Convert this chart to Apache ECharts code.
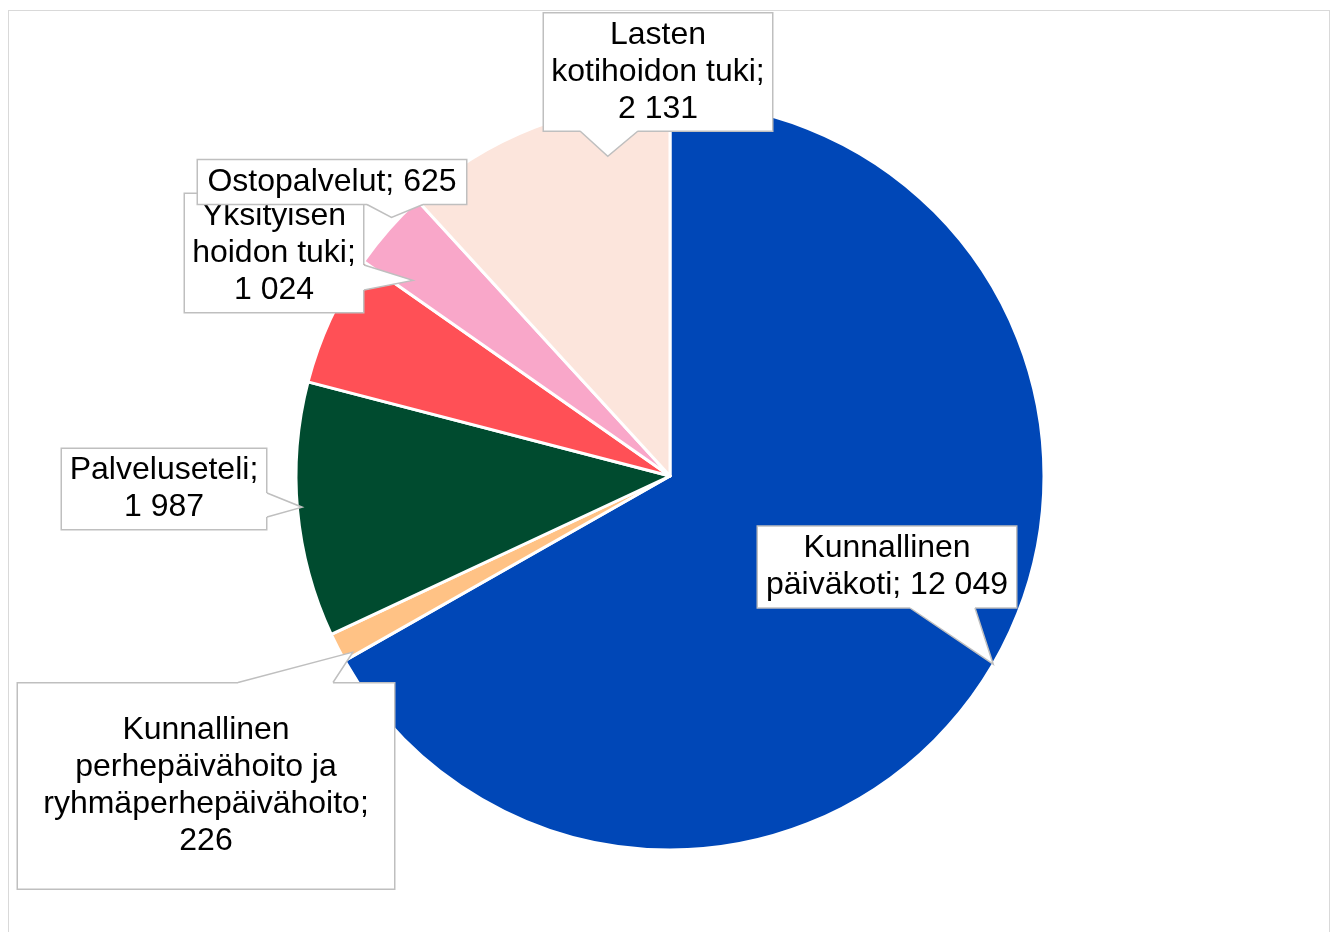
<!DOCTYPE html>
<html>
<head>
<meta charset="utf-8">
<script src="https://cdn.jsdelivr.net/npm/echarts@6/dist/echarts.min.js"></script>
<style>
  html, body { margin: 0; padding: 0; background: #fff; }
  #frame { position: absolute; left: 8px; top: 10px; width: 1322px; height: 930px; border: 1.5px solid #d9d9d9; box-sizing: border-box; }
  #chart { position: absolute; left: 0; top: 0; width: 1341px; height: 932px; }
</style>
</head>
<body>
<div id="frame"></div>
<div id="chart"></div>
<script>
// ---- data ----
const categories = [
  'Kunnallinen päiväkoti',
  'Kunnallinen perhepäivähoito ja ryhmäperhepäivähoito',
  'Palveluseteli',
  'Yksityisen hoidon tuki',
  'Ostopalvelut',
  'Lasten kotihoidon tuki'
];
const values = [12049, 226, 1987, 1024, 625, 2131];

// ---- styles / layout (not data) ----
const colors = ['#0047b7', '#ffc285', '#004b2f', '#ff5056', '#f9a7c9', '#fce5dc'];
const wrappedNames = [
  'Kunnallinen\npäiväkoti;',
  'Kunnallinen\nperhepäivähoito ja\nryhmäperhepäivähoito;\n',
  'Palveluseteli;\n',
  'Yksityisen\nhoidon tuki;\n',
  'Ostopalvelut;',
  'Lasten\nkotihoidon tuki;\n'
];
const LINE_H = 37;
// callout box: centre x, centre y, width, height
const boxes = [
  [887, 567, 260, 82],
  [206, 786, 378, 207],
  [164, 489, 206, 81],
  [274, 253, 180, 120],
  [332, 182, 270, 45],
  [658, 72, 230, 118]
];
// callout pointer: box edge, span along edge, tip as (fraction of slice angle, fraction of radius)
const pointers = [
  { edge: 'bottom', a: 910, b: 975, t: 0.50, k: 1.00 },
  { edge: 'top',    a: 238, b: 333, t: 0.12, k: 0.97 },
  { edge: 'right',  a: 493, b: 517, t: 0.51, k: 0.987 },
  { edge: 'right',  a: 265, b: 290, t: 1.11, k: 0.864 },
  { edge: 'bottom', a: 367, b: 423, t: 0.63, k: 1.016 },
  { edge: 'bottom', a: 580, b: 638, t: 0.741, k: 0.871 }
];

function fmt(v) { return String(v).replace(/\B(?=(\d{3})+(?!\d))/g, ' '); }
function labelText(i) {
  const w = wrappedNames[i];
  return w.endsWith('\n') ? w + fmt(values[i]) : w + ' ' + fmt(values[i]);
}

const chart = echarts.init(document.getElementById('chart'));
chart.setOption({
  animation: false,
  series: [{
    type: 'pie',
    center: [670, 476],
    radius: [0, 374],
    startAngle: 90,
    clockwise: true,
    avoidLabelOverlap: false,
    itemStyle: { borderColor: '#ffffff', borderWidth: 3 },
    data: categories.map((n, i) => {
      const lines = labelText(i).split('\n').length;
      const extra = boxes[i][3] - 2 - lines * LINE_H;
      const padTop = Math.max(0, extra / 2 + 3.5);
      const padBottom = Math.max(0, extra - padTop);
      return {
        name: n,
        value: values[i],
        itemStyle: { color: colors[i] },
        label: {
          width: boxes[i][2] - 2,
          padding: [padTop, 0, padBottom, 0]
        }
      };
    }),
    label: {
      show: true,
      position: 'outside',
      formatter: (p) => labelText(p.dataIndex),
      fontFamily: 'Liberation Sans, Arial, sans-serif',
      fontSize: 32,
      lineHeight: LINE_H,
      color: '#000',
      align: 'center',
      verticalAlign: 'middle',
      backgroundColor: '#ffffff',
      borderColor: '#bfbfbf',
      borderWidth: 1.5
    },
    labelLine: { show: false },
    labelLayout: (params) => {
      const b = boxes[params.dataIndex];
      return { x: b[0], y: b[1], align: 'center', verticalAlign: 'middle', hideOverlap: false };
    }
  }]
});

// callout pointers (white wedges with grey outline) from each box to its slice
const data = chart.getModel().getSeriesByIndex(0).getData();
const elements = [];
pointers.forEach((p, i) => {
  const L = data.getItemLayout(i);
  const ang = L.startAngle + p.t * (L.endAngle - L.startAngle);
  const tip = [L.cx + p.k * L.r * Math.cos(ang), L.cy + p.k * L.r * Math.sin(ang)];
  const b = boxes[i];
  const right = b[0] + b[2] / 2;
  const top = b[1] - b[3] / 2, bottom = b[1] + b[3] / 2;
  let A, B, Ai, Bi;
  if (p.edge === 'bottom') { A = [p.a, bottom]; B = [p.b, bottom]; Ai = [p.a, bottom - 3]; Bi = [p.b, bottom - 3]; }
  else if (p.edge === 'top') { A = [p.a, top]; B = [p.b, top]; Ai = [p.a, top + 3]; Bi = [p.b, top + 3]; }
  else { A = [right, p.a]; B = [right, p.b]; Ai = [right - 3, p.a]; Bi = [right - 3, p.b]; }
  elements.push({
    type: 'polygon', z: 100, silent: true,
    shape: { points: [Ai, A, tip, B, Bi] },
    style: { fill: '#ffffff', stroke: null }
  });
  elements.push({
    type: 'polyline', z: 101, silent: true,
    shape: { points: [A, tip, B] },
    style: { stroke: '#bfbfbf', lineWidth: 1.5, fill: null }
  });
});
chart.setOption({ graphic: { elements: elements } });
</script>
</body>
</html>
